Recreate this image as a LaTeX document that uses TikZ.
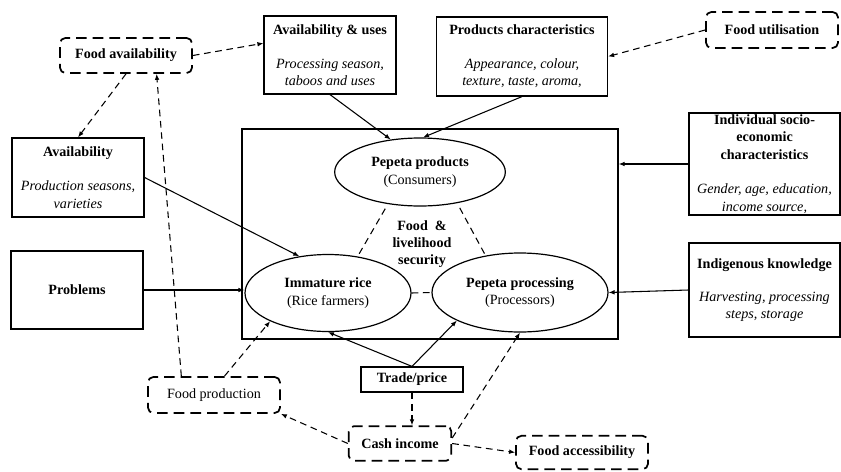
\documentclass[tikz,border=0pt]{standalone}
\usepackage{fontspec}
\setmainfont{Liberation Serif}
\usetikzlibrary{shapes.geometric, arrows.meta}

\tikzset{
	sbox/.style={draw, line width=0.9pt, align=center, inner sep=1pt},
	dbox/.style={draw, line width=1.3pt, dash pattern=on 8pt off 4.5pt, rounded corners=4pt, align=center, inner sep=1pt},
	oval/.style={draw, ellipse, line width=0.9pt, align=center, inner sep=0pt},
	arr/.style={line width=0.8pt, -{Latex[length=4.5pt,width=3.5pt]}},
	darr/.style={arr, dash pattern=on 5pt off 3.5pt},
	dlink/.style={line width=0.8pt, dash pattern=on 5pt off 3.5pt}
}

\begin{document}
\fontsize{10.6pt}{13pt}\selectfont
\begin{tikzpicture}[x=0.75pt, y=-0.75pt]

	\useasboundingbox (0,0) rectangle (841,471);
	\fill[white] (0,0) rectangle (841,471);

	% central frame and the three actors
	\node[sbox, minimum width=282pt, minimum height=157.5pt] (frame) at (430,234) {};
	\node[oval, minimum width=128pt, minimum height=51pt] (ppProd) at (420,172) {\textbf{Pepeta products}\\(Consumers)};
	\node[oval, minimum width=124.5pt, minimum height=57.75pt] (rice) at (328,293) {\textbf{Immature rice}\\(Rice farmers)};
	\node[oval, minimum width=132pt, minimum height=59.25pt] (ppProc) at (520,292.5) {\textbf{Pepeta processing}\\(Processors)};
	\node[align=center, font=\bfseries] (fls) at (422,244) {Food \ \&\\livelihood\\security};

	% factor boxes
	\node[sbox, minimum width=99pt, minimum height=58.5pt] (availUses) at (330,55) {\textbf{Availability \& uses}\\[12.5pt]\textit{Processing season,}\\\textit{taboos and uses}};
	\node[sbox, minimum width=128.25pt, minimum height=59.25pt] (prodChar) at (522,56.5) {\textbf{Products characteristics}\\[12pt]\textit{Appearance, colour,}\\\textit{texture, taste, aroma,}};
	\node[sbox, minimum width=99pt, minimum height=59.25pt] (avail) at (78,177.5) {\textbf{Availability}\\[12.5pt]\textit{Production seasons,}\\\textit{varieties}};
	\node[sbox, minimum width=99pt, minimum height=58.5pt] (problems) at (77,290) {\textbf{Problems}};
	\node[sbox, minimum width=113.25pt, minimum height=76.5pt] (socio) at (764.5,164) {\textbf{Individual socio-}\\\textbf{economic}\\\textbf{characteristics}\\[13pt]\textit{Gender, age, education,}\\\textit{income source,}};
	\node[sbox, minimum width=113.25pt, minimum height=70.5pt] (indig) at (764.5,290) {\textbf{Indigenous knowledge}\\[11.5pt]\textit{Harvesting, processing}\\\textit{steps, storage}};
	\node[sbox, minimum width=76.5pt, minimum height=18.75pt] (tradePrice) at (412,379.5) {\textbf{Trade/price}};

	% food security dimensions
	\node[dbox, minimum width=99pt, minimum height=26.25pt] (fAvail) at (126,55.5) {\textbf{Food availability}};
	\node[dbox, minimum width=99pt, minimum height=27pt] (fUtil) at (772,30) {\textbf{Food utilisation}};
	\node[dbox, minimum width=99pt, minimum height=27pt] (fProd) at (214,395) {Food production};
	\node[dbox, minimum width=77pt, minimum height=26pt] (cash) at (400,443.5) {\textbf{Cash income}};
	\node[dbox, minimum width=99pt, minimum height=25pt] (fAccess) at (582,452.5) {\textbf{Food accessibility}};

	% links inside the frame
	\draw[dlink, shorten <=4pt] (ppProd.225) -- (rice.51);
	\draw[dlink, shorten <=4pt] (ppProd.-40) -- (ppProc.133);
	\draw[dlink] (rice.east) -- (ppProc.west);

	% solid arrows
	\draw[arr] (availUses.south) -- (ppProd.132);
	\draw[arr] (prodChar.south) -- (ppProd.85);
	\draw[arr] (socio.west) -- (frame.east |- socio.west);
	\draw[arr] (indig.west) -- (ppProc.east);
	\draw[arr] (problems.east) -- (problems.east -| rice.west);
	\draw[arr] (avail.east) -- (rice.128);
	\draw[arr] (tradePrice.north) -- (rice.south);
	\draw[arr] (tradePrice.north) -- (ppProc.204);

	% dashed arrows
	\draw[darr] (fAvail.east) -- (availUses.170);
	\draw[darr] (fAvail.south) -- (avail.north);
	\draw[darr] (fUtil.west) -- (prodChar.east);
	\draw[darr] (fProd.150) -- (fAvail.-31);
	\draw[darr] (fProd.61) -- (rice.206);
	\draw[darr] (tradePrice.south) -- (tradePrice.south |- cash.north);
	\draw[darr] (cash.west) -- (fProd.south east);
	\draw[darr] (cash.east) -- (fAccess.west);
	\draw[darr] (cash.6) -- (ppProc.south);

\end{tikzpicture}
\end{document}
